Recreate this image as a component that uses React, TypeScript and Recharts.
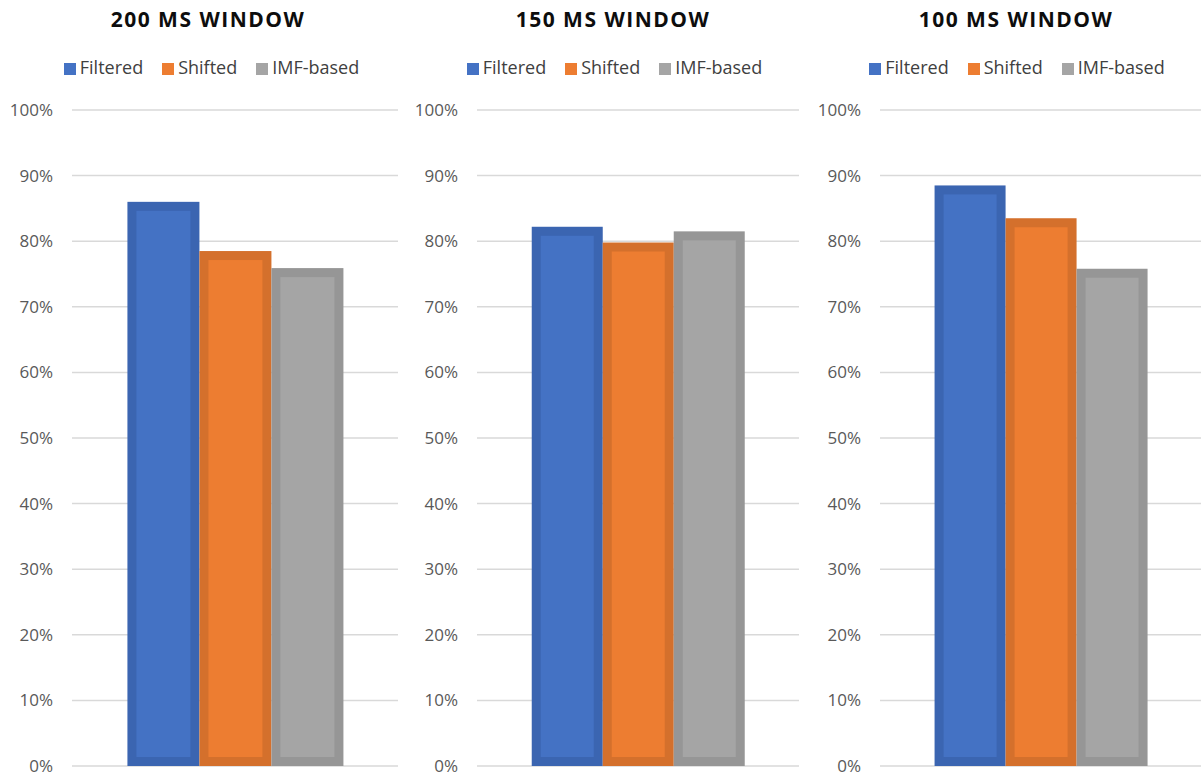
import { Bar, BarChart, CartesianGrid, Legend, XAxis, YAxis } from "recharts";

// values (percent)
const windows = ["200 MS WINDOW", "150 MS WINDOW", "100 MS WINDOW"];
const filtered = [86.0, 82.2, 88.5];
const shifted = [78.5, 79.8, 83.5];
const imfBased = [75.9, 81.5, 75.8];
const yTicks = [0, 10, 20, 30, 40, 50, 60, 70, 80, 90, 100];

const series = [
  { key: "filtered", name: "Filtered", fill: "#4472C4", edge: "#3B65B1" },
  { key: "shifted", name: "Shifted", fill: "#ED7D31", edge: "#D4702C" },
  { key: "imf", name: "IMF-based", fill: "#A5A5A5", edge: "#969696" },
];

const panels = [
  { left: 0, width: 400 },
  { left: 405, width: 396 },
  { left: 808, width: 395 },
];

const FONT = "'Open Sans', sans-serif";

function framedBar(edge: string) {
  return (props: any) => {
    const { x, y, width, height, fill } = props;
    const inset = 9;
    return (
      <g>
        <rect x={x} y={y} width={width} height={height} fill={edge} />
        <rect
          x={x + inset}
          y={y + inset}
          width={Math.max(width - inset * 2, 0)}
          height={Math.max(height - inset * 2, 0)}
          fill={fill}
        />
      </g>
    );
  };
}

const legendOrder = (item: any) =>
  series.findIndex((s) => s.name === item.value);

function WindowChart({ index }: { index: number }) {
  const data = [
    {
      name: windows[index],
      filtered: filtered[index],
      shifted: shifted[index],
      imf: imfBased[index],
    },
  ];
  const { left, width } = panels[index];

  return (
    <div style={{ position: "absolute", left, top: 0, width, height: 776 }}>
      <div
        style={{
          position: "absolute",
          left: 0,
          top: 5,
          width: 416,
          textAlign: "center",
          fontSize: 21,
          lineHeight: "28px",
          fontWeight: 700,
          letterSpacing: 1.5,
          color: "#0D0D0D",
        }}
      >
        {windows[index]}
      </div>
      <BarChart
        width={width}
        height={776}
        data={data}
        margin={{ top: 110, right: 2, bottom: 10, left: 0 }}
        barGap={0}
        barCategoryGap="17%"
      >
        <CartesianGrid vertical={false} stroke="#D9D9D9" strokeWidth={1.5} />
        <XAxis dataKey="name" hide />
        <YAxis
          width={72}
          domain={[0, 100]}
          ticks={yTicks}
          tickFormatter={(v) => `${v}%`}
          axisLine={false}
          tickLine={false}
          tickMargin={13}
          tick={{ fill: "#595959", fontSize: 17, fontFamily: FONT }}
        />
        <Legend
          verticalAlign="middle"
          align="center"
          iconType="square"
          iconSize={12}
          itemSorter={legendOrder}
          wrapperStyle={{ top: 55, left: 22, fontFamily: FONT, fontSize: 18 }}
          formatter={(value) => (
            <span style={{ color: "#404040", marginRight: 9 }}>{value}</span>
          )}
        />
        {series.map((s) => (
          <Bar
            key={s.key}
            dataKey={s.key}
            name={s.name}
            fill={s.fill}
            shape={framedBar(s.edge)}
            isAnimationActive={false}
          />
        ))}
      </BarChart>
    </div>
  );
}

export default function App() {
  return (
    <div
      style={{
        position: "absolute",
        left: 0,
        top: 0,
        width: 1203,
        height: 776,
        background: "#fff",
        fontFamily: FONT,
      }}
    >
      {windows.map((w, i) => (
        <WindowChart key={w} index={i} />
      ))}
    </div>
  );
}
